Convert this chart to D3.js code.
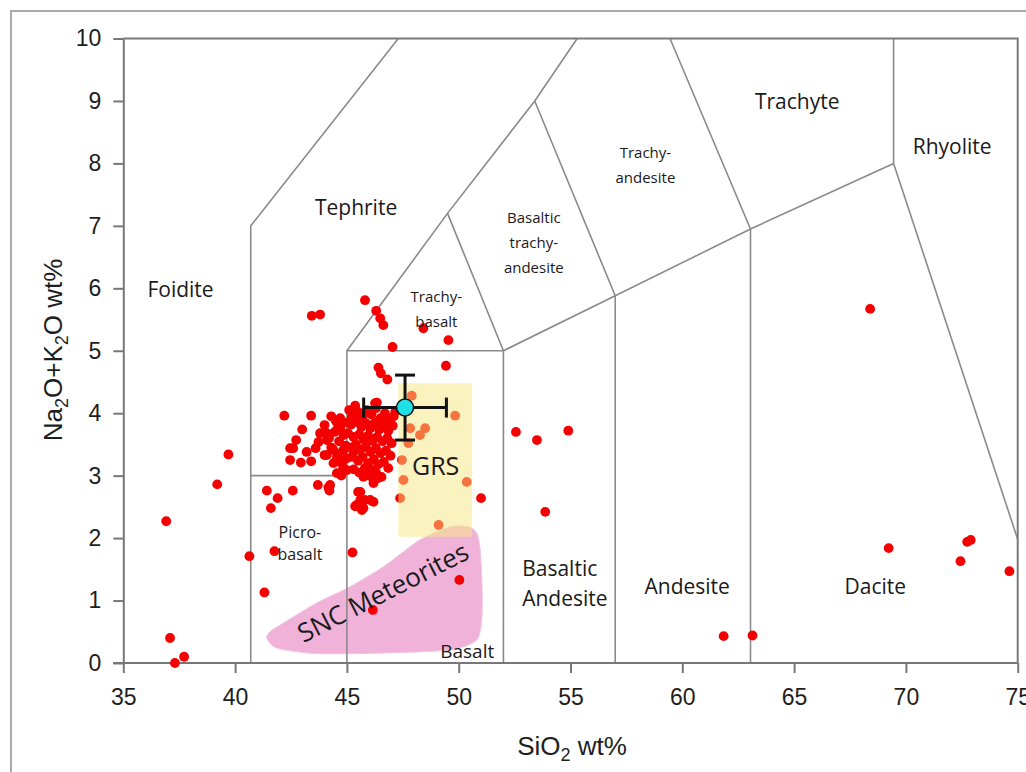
<!DOCTYPE html>
<html lang="en">
<head>
<meta charset="UTF-8">
<title>TAS diagram</title>
<script src="https://d3js.org/d3.v7.min.js"></script>
<style>
  body { margin: 0; background: #fff; }
  .region { font-family: "Open Sans", sans-serif; fill: #1a1a1a; }
  .tick text { font-family: "Liberation Sans", Arial, sans-serif; font-size: 23px; fill: #1e1e1e; }
  .tick line, .domain { stroke: #777; stroke-width: 2; }
  .title { font-family: "Liberation Sans", Arial, sans-serif; font-size: 26px; fill: #1e1e1e; }
</style>
</head>
<body>
<svg id="chart" width="1026" height="772"></svg>
<script>
// axis ticks
const xTicks = [35, 40, 45, 50, 55, 60, 65, 70, 75];
const yTicks = [0, 1, 2, 3, 4, 5, 6, 7, 8, 9, 10];

// field boundaries (SiO2, Na2O+K2O)
const boundaries = [
  [[40.7, 0], [40.7, 7], [47.3, 10]],
  [[40.7, 3], [45, 3]],
  [[45, 0], [45, 5], [52, 5], [52, 0]],
  [[45, 5], [49.5, 7.2], [53.4, 9.0], [55.3, 10]],
  [[49.5, 7.2], [52, 5]],
  [[53.4, 9.0], [57, 5.88]],
  [[52, 5], [57, 5.88], [63.05, 6.95], [69.45, 8.0]],
  [[57, 0], [57, 5.88]],
  [[63.05, 0], [63.05, 6.95]],
  [[59.45, 10], [63.05, 6.95]],
  [[69.45, 8.0], [69.45, 10]],
  [[69.45, 8.0], [75, 1.98]]
];

// SNC meteorites field outline
const sncField = [
  [41.42, 0.40], [41.86, 0.24], [43.65, 0.15], [46.63, 0.16], [49.62, 0.21],
  [50.81, 0.37], [51.04, 0.74], [51.04, 1.28], [50.96, 1.81], [50.81, 2.08],
  [50.44, 2.18], [49.77, 2.19], [49.02, 2.10], [48.13, 1.94], [46.63, 1.54],
  [45.14, 1.22], [43.65, 0.96], [42.16, 0.64], [41.56, 0.50]
];

// GRS box corners
const grsBox = [[47.3, 2.02], [50.6, 4.48]];

// samples
const samples = [
  [36.92, 2.27], [37.09, 0.40], [37.31, 0.0], [37.72, 0.10], [39.2, 2.86], [39.7, 3.34],
  [40.64, 1.71], [41.31, 1.13], [41.76, 1.79], [45.25, 1.77], [50.03, 1.33], [51.0, 2.64],
  [46.16, 0.85],
  [41.42, 2.76], [41.9, 2.64], [41.6, 2.48], [42.58, 2.76], [43.7, 2.85], [44.17, 2.81], [44.22, 2.76],
  [42.2, 3.96], [43.4, 3.96], [43.0, 3.74], [44.0, 3.81], [43.8, 3.68], [44.1, 3.68], [44.1, 3.57],
  [42.73, 3.57], [42.46, 3.44], [42.6, 3.44], [43.2, 3.38], [43.6, 3.44], [43.73, 3.54], [44.0, 3.33],
  [42.46, 3.25], [42.94, 3.21], [43.4, 3.23], [44.55, 3.30], [44.7, 3.76], [44.84, 3.41],
  [44.55, 3.04], [44.84, 3.12],
  [43.43, 5.56], [43.8, 5.58],
  [45.81, 5.81], [46.31, 5.64], [46.49, 5.52], [46.63, 5.41], [48.42, 5.36], [49.54, 5.17],
  [47.04, 5.06], [49.43, 4.76], [46.41, 4.73], [46.52, 4.64], [46.81, 4.54],
  [47.9, 4.28], [49.84, 3.96], [48.5, 3.76], [48.27, 3.65], [47.83, 3.76], [47.75, 3.52],
  [47.46, 3.25], [47.53, 2.93], [50.36, 2.90], [47.38, 2.64], [49.1, 2.21],
  [52.56, 3.70], [53.5, 3.57], [54.9, 3.72], [53.87, 2.42],
  [61.85, 0.43], [63.14, 0.44], [69.23, 1.84], [72.74, 1.94], [72.9, 1.97], [72.44, 1.63],
  [74.63, 1.47], [68.4, 5.67],
  [45.37, 4.12], [46.34, 4.17], [47.16, 4.02], [45.5, 2.74], [45.6, 2.61], [45.37, 2.51],
  [45.74, 2.48], [46.19, 2.58], [46.19, 2.93], [46.4, 2.96], [46.1, 3.09], [45.0, 3.09],
  [44.84, 3.25], [44.6, 3.78], [45.22, 3.94], [46.26, 4.16], [44.1, 3.33], [44.4, 3.41],
  [44.77, 3.20], [44.25, 2.85], [45.3, 3.38], [45.74, 2.98], [46.19, 2.88], [45.6, 2.74],
  [46.04, 3.09], [45.8, 2.61], [45.44, 2.53], [45.67, 2.45], [46.04, 2.61],
  [45.1, 4.05], [45.3, 3.98], [45.5, 4.02], [45.7, 3.95], [45.9, 4.05], [46.1, 3.98],
  [46.3, 4.08], [46.5, 3.92], [46.7, 4.0], [46.9, 3.9], [47.1, 3.95],
  [44.9, 3.85], [45.2, 3.82], [45.45, 3.86], [45.65, 3.78], [45.85, 3.84], [46.05, 3.76],
  [46.25, 3.85], [46.45, 3.74], [46.65, 3.82], [46.85, 3.72], [47.05, 3.8],
  [44.85, 3.65], [45.05, 3.68], [45.3, 3.62], [45.55, 3.66], [45.75, 3.58], [45.95, 3.64],
  [46.15, 3.56], [46.35, 3.62], [46.6, 3.55], [46.8, 3.6], [47.0, 3.52],
  [44.95, 3.48], [45.15, 3.45], [45.4, 3.5], [45.6, 3.42], [45.85, 3.46], [46.05, 3.38],
  [46.3, 3.44], [46.5, 3.36], [46.75, 3.4], [46.95, 3.32],
  [45.0, 3.28], [45.25, 3.3], [45.5, 3.24], [45.7, 3.3], [45.95, 3.2], [46.2, 3.26],
  [46.4, 3.18], [46.65, 3.22], [46.85, 3.12],
  [45.3, 3.1], [45.55, 3.05], [45.8, 3.12], [46.0, 3.0], [46.3, 3.05], [46.55, 2.98],
  [44.3, 3.95], [44.5, 3.88], [44.7, 3.92], [44.2, 3.6], [44.45, 3.7], [44.65, 3.55],
  [44.3, 3.45], [44.6, 3.35], [44.4, 3.2], [44.75, 3.0]
];

// mean with error ranges
const meanPoint = [47.6, 4.09];
const meanErrX = [45.75, 49.45];
const meanErrY = [3.57, 4.61];

// region names: lines, anchor point, font size
const regions = [
  { lines: ["Foidite"], at: [37.56, 5.86], size: 21 },
  { lines: ["Tephrite"], at: [45.41, 7.17], size: 21 },
  { lines: ["Trachyte"], at: [65.14, 8.87], size: 21 },
  { lines: ["Rhyolite"], at: [72.07, 8.15], size: 21 },
  { lines: ["Trachy-", "andesite"], at: [58.35, 8.09], size: 15, lh: 25 },
  { lines: ["Basaltic", "trachy-", "andesite"], at: [53.36, 7.05], size: 15, lh: 25 },
  { lines: ["Trachy-", "basalt"], at: [49.0, 5.78], size: 15, lh: 25 },
  { lines: ["Picro-", "basalt"], at: [42.9, 2.0], size: 16, lh: 22 },
  { lines: ["Basaltic", "Andesite"], at: [52.84, 1.39], size: 21, lh: 30, anchor: "start" },
  { lines: ["Andesite"], at: [60.22, 1.10], size: 21 },
  { lines: ["Dacite"], at: [68.63, 1.10], size: 21 },
  { lines: ["Basalt"], at: [50.38, 0.08], size: 19 }
];

const svg = d3.select("#chart");
const x = d3.scaleLinear().domain([35, 75]).range([123.3, 1017.7]);
const y = d3.scaleLinear().domain([0, 10]).range([663, 38.5]);

// outer frame
svg.append("rect")
  .attr("x", 11).attr("y", 11).attr("width", 1040).attr("height", 790)
  .attr("fill", "#fff").attr("stroke", "#aaa").attr("stroke-width", 2);

// SNC field
svg.append("path")
  .datum(sncField)
  .attr("d", d3.line().x(d => x(d[0])).y(d => y(d[1])).curve(d3.curveCardinalClosed.tension(0.3)))
  .attr("fill", "#f0b2d8")
  .attr("stroke", "#f4c4e0");

// boundaries
const line = d3.line().x(d => x(d[0])).y(d => y(d[1]));
svg.append("g").selectAll("path")
  .data(boundaries)
  .join("path")
  .attr("d", line)
  .attr("fill", "none")
  .attr("stroke", "#8a8a8a")
  .attr("stroke-width", 1.6);

// plot frame top and right
svg.append("path")
  .attr("d", line([[35, 10], [75, 10], [75, 0]]))
  .attr("fill", "none").attr("stroke", "#7a7a7a").attr("stroke-width", 2);

// axes
svg.append("g")
  .attr("transform", `translate(0,${y(0)})`)
  .call(d3.axisBottom(x).tickValues(xTicks).tickSize(10).tickSizeOuter(0).tickPadding(16))
  .call(g => g.select(".domain").attr("d", `M${x(35) - 10},0H${x(75)}`));
svg.append("g")
  .attr("transform", `translate(${x(35)},0)`)
  .call(d3.axisLeft(y).tickValues(yTicks).tickSize(10).tickSizeOuter(0).tickPadding(12));

// samples
svg.append("g").selectAll("circle")
  .data(samples)
  .join("circle")
  .attr("cx", d => x(d[0]))
  .attr("cy", d => y(d[1]))
  .attr("r", 4.9)
  .attr("fill", "#f40000");

// GRS box
svg.append("rect")
  .attr("x", x(grsBox[0][0])).attr("y", y(grsBox[1][1]))
  .attr("width", x(grsBox[1][0]) - x(grsBox[0][0]))
  .attr("height", y(grsBox[0][1]) - y(grsBox[1][1]))
  .attr("fill", "#f6e880").attr("opacity", 0.5);

// region labels
regions.forEach(r => {
  const t = svg.append("text")
    .attr("class", "region")
    .attr("x", x(r.at[0])).attr("y", y(r.at[1]))
    .attr("text-anchor", r.anchor || "middle")
    .attr("font-size", r.size);
  r.lines.forEach((s, i) => {
    t.append("tspan").attr("x", x(r.at[0])).attr("dy", i ? r.lh : 0).text(s);
  });
});

svg.append("text").attr("class", "region")
  .attr("x", x(48.97)).attr("y", y(3.01))
  .attr("text-anchor", "middle").attr("font-size", 25).text("GRS");

svg.append("text").attr("class", "region")
  .attr("transform", `translate(${x(46.8)},${y(1.0)}) rotate(-27)`)
  .attr("text-anchor", "middle").attr("font-size", 26).attr("fill", "#111")
  .text("SNC Meteorites");

// mean and error bars
const eb = svg.append("g").attr("stroke", "#111").attr("stroke-width", 3).attr("fill", "none");
const cx = x(meanPoint[0]), cy = y(meanPoint[1]);
eb.append("path").attr("d", line([[meanErrX[0], meanPoint[1]], [meanErrX[1], meanPoint[1]]]));
eb.append("path").attr("d", line([[meanPoint[0], meanErrY[0]], [meanPoint[0], meanErrY[1]]]));
meanErrX.forEach(v => eb.append("line")
  .attr("x1", x(v)).attr("x2", x(v)).attr("y1", cy - 10).attr("y2", cy + 10));
meanErrY.forEach(v => eb.append("line")
  .attr("x1", cx - 10).attr("x2", cx + 10).attr("y1", y(v)).attr("y2", y(v)));
svg.append("circle")
  .attr("cx", cx).attr("cy", cy).attr("r", 8.5)
  .attr("fill", "#1ee0e6").attr("stroke", "#111").attr("stroke-width", 1.5);

// axis titles
svg.append("text").attr("class", "title")
  .attr("transform", `translate(62,350) rotate(-90)`)
  .attr("text-anchor", "middle")
  .call(t => {
    t.append("tspan").text("Na");
    t.append("tspan").attr("font-size", 18).attr("dy", 6).text("2");
    t.append("tspan").attr("dy", -6).text("O+K");
    t.append("tspan").attr("font-size", 18).attr("dy", 6).text("2");
    t.append("tspan").attr("dy", -6).text("O wt%");
  });
svg.append("text").attr("class", "title")
  .attr("x", 572).attr("y", 755)
  .attr("text-anchor", "middle")
  .call(t => {
    t.append("tspan").text("SiO");
    t.append("tspan").attr("font-size", 18).attr("dy", 6).text("2");
    t.append("tspan").attr("dy", -6).text("  wt%");
  });
</script>
</body>
</html>
